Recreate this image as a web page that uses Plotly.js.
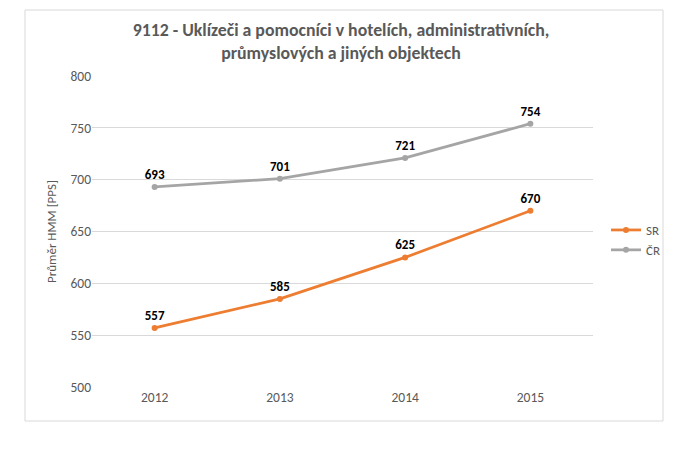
<!DOCTYPE html>
<html><head><meta charset="utf-8">
<script src="https://cdn.plot.ly/plotly-3.0.1.min.js"></script>
<style>body{margin:0;background:#fff}#c{width:682px;height:452px}</style>
</head><body><div id="c"></div>
<script>
const years = ["2012", "2013", "2014", "2015"];
const srValues = [557, 585, 625, 670];
const crValues = [693, 701, 721, 754];
const seriesNames = ["SR", "ČR"];
const chartTitle = "9112 - Uklízeči a pomocníci v hotelích, administrativních,<br>průmyslových a jiných objektech";
const yTitle = "Průměr HMM [PPS]";

const FONT = "Carlito, Lato, 'Liberation Sans', sans-serif";
function series(name, vals, color) {
  return {
    x: years, y: vals, name: name, type: "scatter", mode: "lines+markers+text",
    text: vals.map(String), textposition: "top center",
    textfont: {family: FONT, size: 13, color: "#000", weight: "bold"},
    line: {color: color, width: 2.75}, marker: {color: color, size: 6},
    cliponaxis: false
  };
}
const L = 92, R = 593, T = 76, B = 387, W = 682, H = 452;
const px = v => (v - L) / (R - L);
const py = v => (B - v) / (B - T);
const layout = {
  width: W, height: H, paper_bgcolor: "#fff", plot_bgcolor: "#fff",
  margin: {l: L, r: W - R, t: T, b: H - B},
  font: {family: FONT, color: "#595959", size: 13},
  title: {text: chartTitle, x: 0.5, xanchor: "center", y: 1 - 36 / H, yanchor: "middle",
          font: {family: FONT, size: 17.8, color: "#595959", weight: "bold"}},
  xaxis: {type: "category", range: [-0.5, 3.5], showgrid: false, zeroline: false, showline: false,
          ticks: "", tickfont: {size: 13.5, color: "#595959"}, fixedrange: true},
  yaxis: {range: [500, 800], dtick: 50, showgrid: true, gridcolor: "#D9D9D9", gridwidth: 1,
          zeroline: false, showline: false, ticks: "", tickfont: {size: 13.5, color: "#595959"},
          title: {text: yTitle, font: {size: 13, color: "#595959"}, standoff: 10}},
  showlegend: true,
  legend: {x: px(606), y: py(240), xanchor: "left", yanchor: "middle", font: {size: 13, color: "#595959"},
           bgcolor: "rgba(0,0,0,0)", itemwidth: 30, tracegroupgap: 0},
  shapes: [{type: "rect", xref: "paper", yref: "paper", x0: px(25), x1: px(663), y0: py(421), y1: py(10),
            line: {color: "#D9D9D9", width: 1}, fillcolor: "rgba(0,0,0,0)", layer: "below"}]
};
Plotly.newPlot("c", [series(seriesNames[0], srValues, "#ED7D31"), series(seriesNames[1], crValues, "#A5A5A5")],
  layout, {displayModeBar: false, staticPlot: true});
</script></body></html>
